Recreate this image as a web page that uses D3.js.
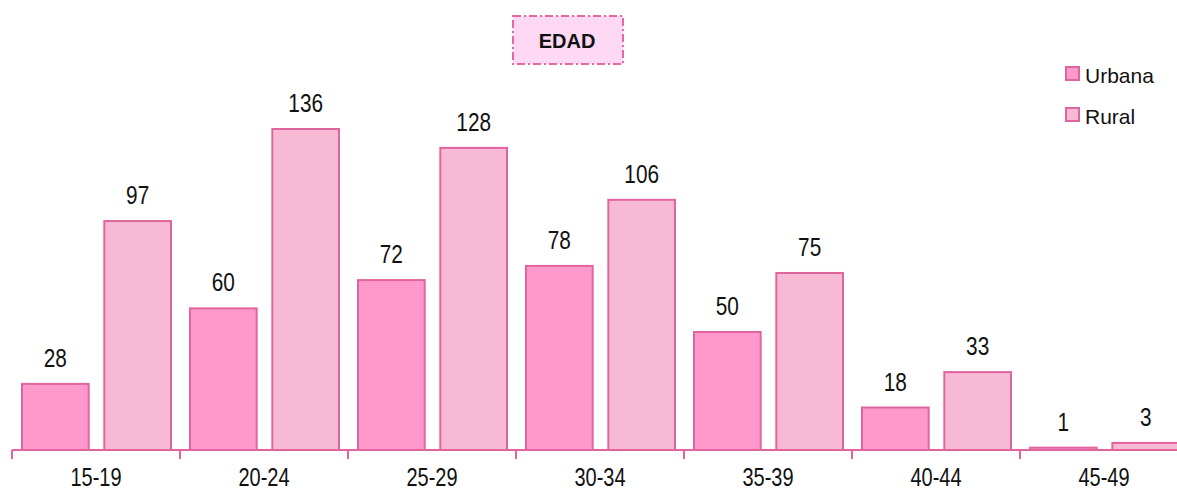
<!DOCTYPE html>
<html><head><meta charset="utf-8">
<script src="https://cdn.jsdelivr.net/npm/d3@7"></script>
<style>body{margin:0;background:#fff}svg{display:block}</style>
</head><body>
<svg id="c" width="1177" height="492"></svg>
<script>
const categories = ["15-19","20-24","25-29","30-34","35-39","40-44","45-49"];
const seriesNames = ["Urbana","Rural"];
const urbana = [28,60,72,78,50,18,1];
const rural = [97,136,128,106,75,33,3];
const title = "EDAD";

const svg = d3.select("#c");
const font = "'Liberation Sans',Arial,sans-serif";
const colors = {Urbana:"#ff99cc", Rural:"#f8b9d5"};
const strokeC = "#e0659e";
const sx = 0.8;

const x0 = 12, bandW = 168;
const x = d3.scaleBand().domain(categories).range([x0, x0 + bandW*categories.length]).paddingInner(0).paddingOuter(0);
const y = d3.scaleLinear().domain([0,136]).range([450,129]);

const data = categories.map((c,i)=>({cat:c, values:[{s:"Urbana",v:urbana[i]},{s:"Rural",v:rural[i]}]}));
const x1 = d3.scaleBand().domain(seriesNames).range([10, bandW-9]).paddingInner(0.19);

const g = svg.append("g");
const groups = g.selectAll("g.cat").data(data).join("g").attr("transform",d=>`translate(${x(d.cat)},0)`);
groups.selectAll("rect").data(d=>d.values).join("rect")
  .attr("x",d=>x1(d.s)).attr("width",x1.bandwidth())
  .attr("y",d=>y(d.v)).attr("height",d=>y(0)-y(d.v))
  .attr("fill",d=>colors[d.s]).attr("stroke",strokeC).attr("stroke-width",2);
groups.selectAll("text.val").data(d=>d.values).join("text").attr("class","val")
  .attr("transform",d=>`translate(${x1(d.s)+x1.bandwidth()/2},${y(d.v)-17}) scale(${sx},1)`)
  .attr("text-anchor","middle").attr("font-family",font).attr("font-size",26).attr("fill","#111")
  .text(d=>d.v);

// axis
const axis = d3.axisBottom(x).tickSize(0).tickPadding(0);
const ax = svg.append("g").attr("transform","translate(0,450)").call(axis);
ax.select(".domain").remove();
ax.selectAll(".tick text").attr("y",0).attr("dy",0)
  .attr("transform",`translate(0,36) scale(${sx},1)`)
  .attr("font-family",font).attr("font-size",25).attr("fill","#111");
svg.append("line").attr("x1",x0).attr("x2",1177).attr("y1",450).attr("y2",450).attr("stroke",strokeC).attr("stroke-width",2);
svg.selectAll("line.tk").data(categories).join("line").attr("class","tk")
  .attr("x1",d=>x(d)).attr("x2",d=>x(d)).attr("y1",450).attr("y2",459)
  .attr("stroke",strokeC).attr("stroke-width",2);

// title
svg.append("rect").attr("x",513).attr("y",16).attr("width",110).attr("height",48)
  .attr("fill","#ffd9f4").attr("stroke","#e8679e").attr("stroke-width",2).attr("stroke-dasharray","8,3,2,3");
svg.append("text").attr("x",567).attr("y",48).attr("text-anchor","middle")
  .attr("font-family",font).attr("font-weight","bold").attr("font-size",20).attr("fill","#111").text(title);

// legend
const leg = svg.selectAll("g.leg").data(seriesNames).join("g").attr("class","leg")
  .attr("transform",(d,i)=>`translate(1066,${67+i*41})`);
leg.append("rect").attr("width",13).attr("height",13).attr("fill",d=>colors[d]).attr("stroke",strokeC).attr("stroke-width",2);
leg.append("text").attr("x",19).attr("y",16).attr("font-family",font).attr("font-size",21).attr("fill","#111").text(d=>d);
</script>
</body></html>
